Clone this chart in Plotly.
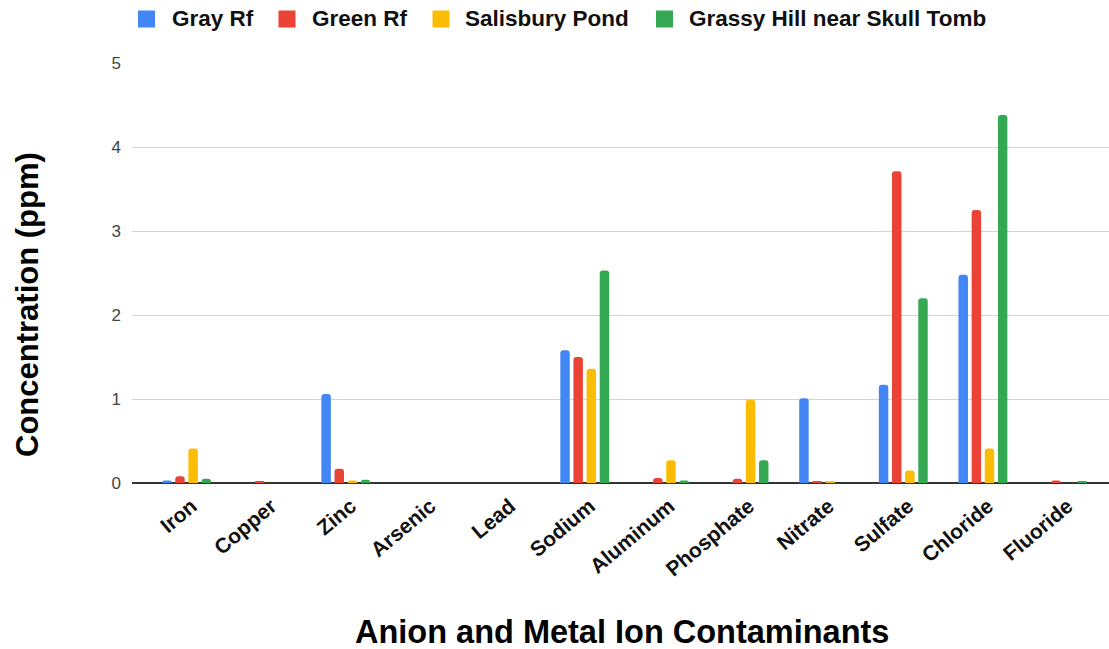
import plotly.graph_objects as go

categories = ["Iron", "Copper", "Zinc", "Arsenic", "Lead", "Sodium", "Aluminum",
              "Phosphate", "Nitrate", "Sulfate", "Chloride", "Fluoride"]
gray_rf = [0.03, 0.00, 1.06, 0.00, 0.00, 1.58, 0.00, 0.00, 1.01, 1.17, 2.48, 0.00]
green_rf = [0.08, 0.02, 0.17, 0.00, 0.00, 1.50, 0.06, 0.05, 0.02, 3.71, 3.25, 0.03]
salisbury_pond = [0.41, 0.00, 0.03, 0.00, 0.00, 1.36, 0.27, 0.99, 0.02, 0.15, 0.41, 0.00]
grassy_hill = [0.05, 0.00, 0.04, 0.00, 0.00, 2.53, 0.03, 0.27, 0.00, 2.20, 4.38, 0.02]

series_names = ["Gray Rf", "Green Rf", "Salisbury Pond", "Grassy Hill near Skull Tomb"]
series_values = [gray_rf, green_rf, salisbury_pond, grassy_hill]
colors = ["#4285F4", "#EA4335", "#FBBC04", "#34A853"]
y_ticks = [0, 1, 2, 3, 4, 5]

W, H = 1109, 649
ML, MR, MT, MB = 132, 0, 63, 166
PW, PH = W - ML - MR, H - MT - MB
FONT = "Liberation Sans, Arial, sans-serif"


def px_x(p):
    return (p - ML) / PW


def px_y(p):
    return (H - MB - p) / PH


fig = go.Figure()
for name, vals, col in zip(series_names, series_values, colors):
    fig.add_trace(go.Bar(
        x=categories, y=vals, name=name,
        marker=dict(color=col, line=dict(width=0), cornerradius=3),
        showlegend=False,
    ))

# Legend (top, horizontal)
legend_sq_centers = [146.5, 287, 441, 664.5]
legend_text_starts = [170, 310, 463, 687]
for name, col, cx, tx in zip(series_names, colors, legend_sq_centers, legend_text_starts):
    fig.add_shape(type="rect", xref="paper", yref="paper",
                  x0=px_x(cx - 8.5), x1=px_x(cx + 8.5),
                  y0=px_y(27.5), y1=px_y(10.5),
                  fillcolor=col, line=dict(width=0), layer="above")
    fig.add_annotation(text=name, xref="paper", yref="paper",
                       x=px_x(tx), y=px_y(19), xanchor="left", yanchor="middle",
                       showarrow=False,
                       font=dict(family=FONT, size=22.5, color="#111111", weight="bold"))

# Axis titles
fig.add_annotation(text="Concentration (ppm)", xref="paper", yref="paper",
                   x=px_x(27), y=px_y(305), xanchor="center", yanchor="middle",
                   textangle=-90, showarrow=False,
                   font=dict(family=FONT, size=31, color="#000000", weight="bold"))
fig.add_annotation(text="Anion and Metal Ion Contaminants", xref="paper", yref="paper",
                   x=px_x(622), y=px_y(632), xanchor="center", yanchor="middle",
                   showarrow=False,
                   font=dict(family=FONT, size=32.5, color="#000000", weight="bold"))

fig.update_layout(
    width=W, height=H,
    margin=dict(l=ML, r=MR, t=MT, b=MB, pad=0),
    paper_bgcolor="white", plot_bgcolor="white",
    barmode="group", bargap=0.34, bargroupgap=0.28,
    font=dict(family=FONT),
    xaxis=dict(
        type="category", range=[-0.685, 11.583],
        tickangle=-40, showgrid=False, showline=False, ticks="",
        ticklabelstandoff=6, ticklabelshift=5,
        tickfont=dict(family=FONT, size=21, color="#111111", weight="bold"),
        fixedrange=True,
    ),
    yaxis=dict(
        range=[0, 5], tickvals=y_ticks, ticktext=[str(v) for v in y_ticks],
        showgrid=True, gridcolor="#d4d4d4", gridwidth=1,
        zeroline=True, zerolinecolor="#333333", zerolinewidth=1.5,
        showline=False, ticks="", ticklabelstandoff=10,
        tickfont=dict(family=FONT, size=17, color="#444444"),
        fixedrange=True,
    ),
)

fig.write_html("out.html", config={"displayModeBar": False})
